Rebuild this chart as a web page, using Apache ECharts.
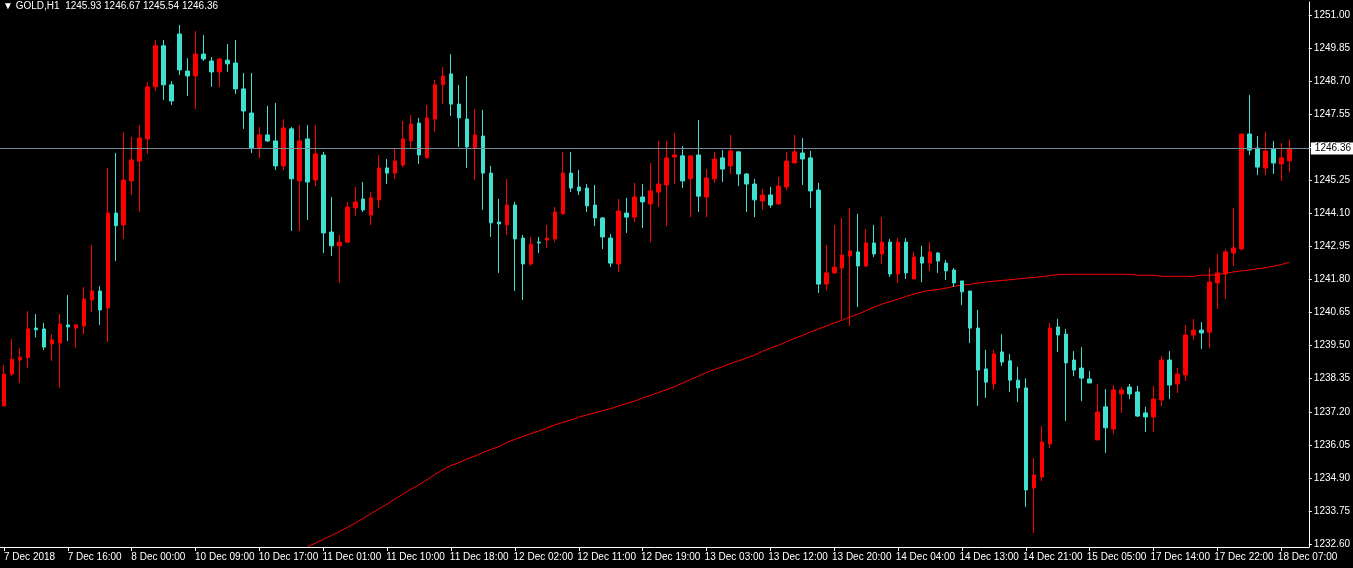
<!DOCTYPE html>
<html>
<head>
<meta charset="utf-8">
<script src="https://cdn.jsdelivr.net/npm/echarts@6/dist/echarts.min.js"></script>
<style>
html,body{margin:0;padding:0;background:#000;}
#chart{width:1353px;height:568px;}
</style>
</head>
<body>
<div id="chart"></div>
<script>
const symbol = 'GOLD';
const timeframe = 'H1';

const timeLabels = ['7 Dec 2018','7 Dec 16:00','8 Dec 00:00','10 Dec 09:00','10 Dec 17:00','11 Dec 01:00','11 Dec 10:00','11 Dec 18:00','12 Dec 02:00','12 Dec 11:00','12 Dec 19:00','13 Dec 03:00','13 Dec 12:00','13 Dec 20:00','14 Dec 04:00','14 Dec 13:00','14 Dec 21:00','15 Dec 05:00','17 Dec 14:00','17 Dec 22:00','18 Dec 07:00'];

const priceTicks = [1232.60,1233.75,1234.90,1236.05,1237.20,1238.35,1239.50,1240.65,1241.80,1242.95,1244.10,1245.25,1246.40,1247.55,1248.70,1249.85,1251.00];

const opens = [1237.40,1238.51,1239.00,1239.08,1240.11,1240.08,1239.56,1239.59,1240.22,1240.11,
1240.18,1241.09,1241.40,1240.81,1244.11,1243.70,1245.23,1245.92,1246.69,1248.50,
1249.93,1248.57,1250.34,1249.05,1248.88,1249.64,1249.40,1249.02,1249.43,1249.33,
1248.43,1247.59,1246.37,1246.83,1246.62,1245.75,1247.04,1245.23,1246.69,1245.26,
1246.13,1243.45,1242.97,1243.10,1244.29,1244.60,1244.04,1244.57,1245.68,1245.50,
1245.78,1246.62,1247.24,1246.03,1247.38,1248.57,1248.95,1247.90,1247.38,1246.37,
1246.79,1245.50,1243.80,1243.70,1244.39,1243.24,1242.34,1243.10,1243.17,1243.21,
1244.08,1245.50,1245.02,1244.98,1244.39,1243.94,1243.24,1242.34,1244.11,1243.97,
1244.67,1244.43,1244.84,1245.09,1246.06,1246.10,1245.30,1246.13,1244.67,1245.30,
1246.03,1245.75,1246.24,1245.47,1245.12,1244.53,1244.74,1244.43,1245.02,1245.85,
1246.20,1246.03,1244.91,1241.64,1242.03,1242.20,1242.62,1242.76,1242.27,1243.07,
1242.69,1243.10,1241.99,1243.10,1241.82,1242.58,1242.37,1242.72,1242.37,1242.13,
1241.75,1241.40,1240.11,1238.69,1238.17,1239.28,1238.97,1238.30,1238.03,1234.55,
1234.93,1236.08,1240.15,1239.90,1239.00,1238.72,1238.34,1236.22,1237.37,1236.60,
1237.82,1238.06,1237.89,1237.16,1237.02,1237.61,1239.00,1238.17,1238.48,1239.87,
1240.04,1239.97,1241.68,1241.99,1242.72,1242.86,1246.86,1246.37,1245.68,1246.34,
1245.82,1245.93];

const highs = [1238.83,1239.73,1239.42,1240.70,1240.60,1240.29,1239.90,1240.60,1241.26,1240.25,
1241.54,1243.00,1241.57,1245.68,1246.20,1246.93,1246.76,1247.17,1248.67,1250.13,
1250.13,1248.70,1250.65,1249.50,1250.44,1250.30,1249.54,1249.50,1249.99,1250.13,
1248.98,1248.98,1247.10,1247.84,1247.94,1247.38,1247.10,1247.17,1247.17,1247.17,
1246.24,1244.67,1243.35,1244.50,1245.02,1245.19,1244.84,1246.13,1245.99,1246.34,
1247.31,1247.52,1247.42,1247.87,1248.74,1249.19,1249.64,1248.57,1248.88,1247.73,
1247.70,1245.75,1244.60,1245.30,1244.50,1243.35,1243.28,1243.28,1243.70,1244.32,
1246.24,1246.24,1245.61,1245.12,1245.09,1243.97,1243.38,1244.60,1244.64,1245.16,
1245.12,1245.85,1246.62,1246.62,1246.90,1246.44,1246.10,1247.35,1245.64,1246.24,
1246.30,1246.83,1246.24,1245.50,1245.30,1244.95,1245.02,1245.37,1246.24,1246.83,
1246.72,1246.27,1245.16,1243.00,1243.70,1243.94,1244.29,1244.08,1243.56,1243.70,
1243.97,1243.21,1243.24,1243.24,1242.76,1242.97,1243.10,1242.76,1242.48,1242.20,
1241.75,1241.40,1240.74,1239.35,1239.35,1239.90,1239.21,1238.76,1238.37,1235.59,
1236.70,1240.29,1240.43,1240.08,1239.31,1239.45,1238.62,1238.17,1237.99,1238.13,
1238.06,1238.17,1238.10,1237.37,1238.10,1239.14,1239.31,1238.72,1240.22,1240.43,
1240.32,1242.20,1242.69,1242.86,1244.29,1246.86,1248.22,1246.79,1246.93,1246.62,
1246.55,1246.67];

const lows = [1237.40,1238.44,1238.20,1238.73,1239.78,1239.35,1238.97,1238.03,1239.66,1239.42,
1239.90,1240.67,1240.22,1239.63,1242.44,1243.21,1244.74,1244.15,1246.17,1248.36,
1248.04,1247.87,1248.91,1248.18,1247.73,1249.40,1248.50,1248.50,1249.02,1248.25,
1247.04,1246.20,1246.03,1246.58,1245.61,1245.61,1243.49,1243.49,1243.87,1245.05,
1242.72,1242.62,1241.68,1243.07,1244.01,1244.15,1243.70,1244.29,1245.12,1245.30,
1245.71,1246.37,1245.82,1246.03,1246.93,1247.90,1247.49,1246.41,1245.68,1245.26,
1244.22,1243.28,1242.03,1243.35,1241.40,1241.09,1242.27,1242.72,1242.90,1243.10,
1244.08,1244.84,1244.74,1244.15,1243.66,1242.86,1242.23,1242.06,1243.42,1243.80,
1243.59,1243.10,1244.32,1243.66,1245.12,1244.98,1243.97,1244.15,1243.97,1245.16,
1245.19,1245.47,1245.05,1244.15,1243.97,1244.22,1244.29,1244.39,1244.91,1245.85,
1245.09,1244.29,1241.33,1241.43,1241.99,1240.43,1240.18,1240.84,1242.23,1242.58,
1242.34,1241.89,1241.68,1241.82,1241.82,1241.71,1242.10,1242.03,1241.78,1241.54,
1240.91,1239.59,1237.40,1237.68,1237.96,1238.79,1237.89,1237.54,1233.89,1232.98,
1234.79,1235.94,1239.28,1236.88,1238.44,1237.57,1238.20,1236.22,1235.77,1236.43,
1237.16,1237.64,1237.02,1236.50,1236.50,1237.40,1237.64,1237.85,1238.27,1239.70,
1239.38,1239.42,1240.77,1241.12,1242.27,1242.83,1246.13,1245.43,1245.43,1245.47,
1245.23,1245.54];

const closes = [1238.51,1239.03,1239.10,1240.08,1240.05,1239.45,1239.70,1240.25,1240.15,1240.22,
1241.12,1241.40,1240.74,1244.11,1243.67,1245.26,1245.96,1246.72,1248.50,1249.93,
1248.57,1248.01,1249.09,1248.88,1249.64,1249.47,1249.02,1249.47,1249.30,1248.43,
1247.66,1246.37,1246.83,1246.62,1245.75,1247.07,1245.30,1246.62,1245.19,1246.17,
1243.42,1242.97,1243.10,1244.32,1244.50,1244.22,1244.64,1245.68,1245.50,1245.92,
1246.69,1247.21,1246.13,1247.42,1248.57,1248.88,1247.90,1247.42,1246.41,1246.83,
1245.50,1243.77,1243.73,1244.39,1243.21,1242.34,1243.03,1243.07,1243.24,1244.15,
1245.50,1244.98,1244.88,1244.36,1243.94,1243.28,1242.37,1244.18,1243.97,1244.67,
1244.50,1244.88,1245.12,1246.03,1246.13,1245.23,1246.10,1244.70,1245.33,1245.99,
1245.64,1246.27,1245.47,1245.12,1244.57,1244.74,1244.39,1245.05,1245.92,1246.24,
1245.99,1244.88,1241.64,1242.03,1242.23,1242.65,1242.79,1242.27,1243.07,1242.69,
1243.10,1241.99,1243.10,1242.03,1242.58,1242.37,1242.76,1242.44,1242.10,1241.68,
1241.37,1240.11,1238.65,1238.23,1239.21,1238.93,1238.30,1238.03,1234.48,1235.00,
1236.15,1240.11,1239.87,1238.90,1238.65,1238.37,1238.20,1237.19,1236.64,1237.96,
1237.96,1237.82,1237.05,1237.02,1237.64,1239.00,1238.13,1238.51,1239.87,1240.04,
1239.94,1241.71,1242.03,1242.76,1242.90,1246.86,1246.30,1245.71,1246.27,1245.85,
1246.03,1246.36];

// moving average, readable from bar 38 onwards (below the visible range before that)
const maStart = 38;
const maValues = [1232.50,1232.63,1232.76,1232.90,1233.03,1233.18,1233.33,1233.49,1233.66,1233.83,
1233.99,1234.17,1234.34,1234.51,1234.66,1234.84,1235.02,1235.19,1235.33,1235.43,
1235.56,1235.66,1235.78,1235.89,1235.99,1236.13,1236.24,1236.34,1236.44,1236.53,
1236.63,1236.74,1236.83,1236.91,1237.01,1237.09,1237.16,1237.24,1237.31,1237.40,
1237.49,1237.57,1237.67,1237.77,1237.87,1237.97,1238.07,1238.20,1238.32,1238.44,
1238.57,1238.67,1238.77,1238.88,1238.97,1239.07,1239.17,1239.30,1239.41,1239.51,
1239.63,1239.75,1239.85,1239.97,1240.08,1240.18,1240.29,1240.39,1240.50,1240.60,
1240.72,1240.84,1240.95,1241.03,1241.12,1241.21,1241.30,1241.37,1241.42,1241.45,
1241.50,1241.56,1241.61,1241.63,1241.68,1241.71,1241.74,1241.77,1241.79,1241.82,
1241.85,1241.87,1241.90,1241.94,1241.97,1241.98,1241.98,1241.98,1241.98,1241.98,
1241.98,1241.98,1241.98,1241.98,1241.95,1241.95,1241.95,1241.91,1241.91,1241.91,
1241.91,1241.91,1241.95,1241.95,1241.97,1242.02,1242.06,1242.10,1242.13,1242.17,
1242.21,1242.26,1242.32,1242.40];

const yMin = 1232.496, yMax = 1251.452;

const last = opens.length - 1;
const lastO = opens[last], lastH = highs[last], lastL = lows[last], lastC = closes[last];

const categories = opens.map((_, i) => (i % 8 === 0 && timeLabels[i / 8]) ? timeLabels[i / 8] : '');
const candleData = opens.map((o, i) => [o, closes[i], lows[i], highs[i]]);
const maData = opens.map((_, i) => i < maStart ? null : maValues[i - maStart]);

const FONT = '"Liberation Sans", Arial, sans-serif';
const chart = echarts.init(document.getElementById('chart'), null, {renderer: 'canvas'});
chart.setOption({
  backgroundColor: '#000000',
  animation: false,
  title: {
    text: '\u25BC ' + symbol + ',' + timeframe + '  ' + lastO.toFixed(2) + ' ' + lastH.toFixed(2) + ' ' + lastL.toFixed(2) + ' ' + lastC.toFixed(2),
    left: 3, top: 1, padding: 0,
    textStyle: {color: '#ffffff', fontSize: 10, fontWeight: 'normal', fontFamily: FONT}
  },
  grid: [
    {left: -2.7, top: 2, width: 1296, height: 545, show: false},
    {left: 0, top: 2, width: 1311, height: 545, show: false},
    {left: -6.2, top: 2, width: 1296, height: 545, show: false}
  ],
  xAxis: [
    {
      type: 'category', gridIndex: 0, data: categories, boundaryGap: true,
      axisLine: {show: false},
      axisTick: {show: true, alignWithLabel: true, interval: 7, length: 4, lineStyle: {color: '#ffffff', width: 1}},
      axisLabel: {show: false, interval: 7},
      splitLine: {show: false}
    },
    {
      type: 'value', gridIndex: 1, min: 0, max: 1,
      axisLine: {show: true, onZero: false, lineStyle: {color: '#ffffff', width: 1}},
      axisTick: {show: false}, axisLabel: {show: false}, splitLine: {show: false}
    },
    {
      type: 'category', gridIndex: 2, data: categories, boundaryGap: true,
      axisLine: {show: false}, axisTick: {show: false},
      axisLabel: {interval: 7, color: '#ffffff', fontSize: 10, fontFamily: FONT, align: 'left', margin: 5, showMaxLabel: true},
      splitLine: {show: false}
    }
  ],
  yAxis: [
    {type: 'value', gridIndex: 0, min: yMin, max: yMax, show: false, splitLine: {show: false}},
    {
      type: 'value', gridIndex: 1, min: yMin, max: yMax, position: 'right',
      axisLine: {show: true, onZero: false, lineStyle: {color: '#ffffff', width: 1}},
      axisTick: {show: true, length: 3, customValues: priceTicks, lineStyle: {color: '#ffffff'}},
      axisLabel: {show: true, customValues: priceTicks, formatter: v => v.toFixed(2), color: '#ffffff', fontSize: 10, fontFamily: FONT, margin: 5},
      splitLine: {show: false}
    },
    {type: 'value', gridIndex: 2, min: yMin, max: yMax, show: false, splitLine: {show: false}}
  ],
  series: [
    {
      name: 'MA', type: 'line', xAxisIndex: 0, yAxisIndex: 0, data: maData,
      symbol: 'none', showSymbol: false, connectNulls: false, z: 2,
      lineStyle: {color: '#ff0000', width: 1}
    },
    {
      name: symbol, type: 'candlestick', xAxisIndex: 0, yAxisIndex: 0, data: candleData,
      barWidth: 4, z: 3,
      itemStyle: {color: '#ff0000', color0: '#40e0d0', borderColor: '#ff0000', borderColor0: '#40e0d0', borderWidth: 1}
    },
    {
      name: 'bid', type: 'line', xAxisIndex: 1, yAxisIndex: 1, data: [], z: 4,
      markLine: {
        silent: true, symbol: ['none', 'none'], animation: false,
        lineStyle: {color: '#778899', width: 1, type: 'solid'},
        label: {
          show: true, position: 'end', distance: 2,
          formatter: () => lastC.toFixed(2),
          color: '#000000', backgroundColor: '#ffffff', fontSize: 10, fontFamily: FONT,
          padding: [1, 6, 1, 4]
        },
        data: [{yAxis: lastC}]
      }
    }
  ]
});
</script>
</body>
</html>
